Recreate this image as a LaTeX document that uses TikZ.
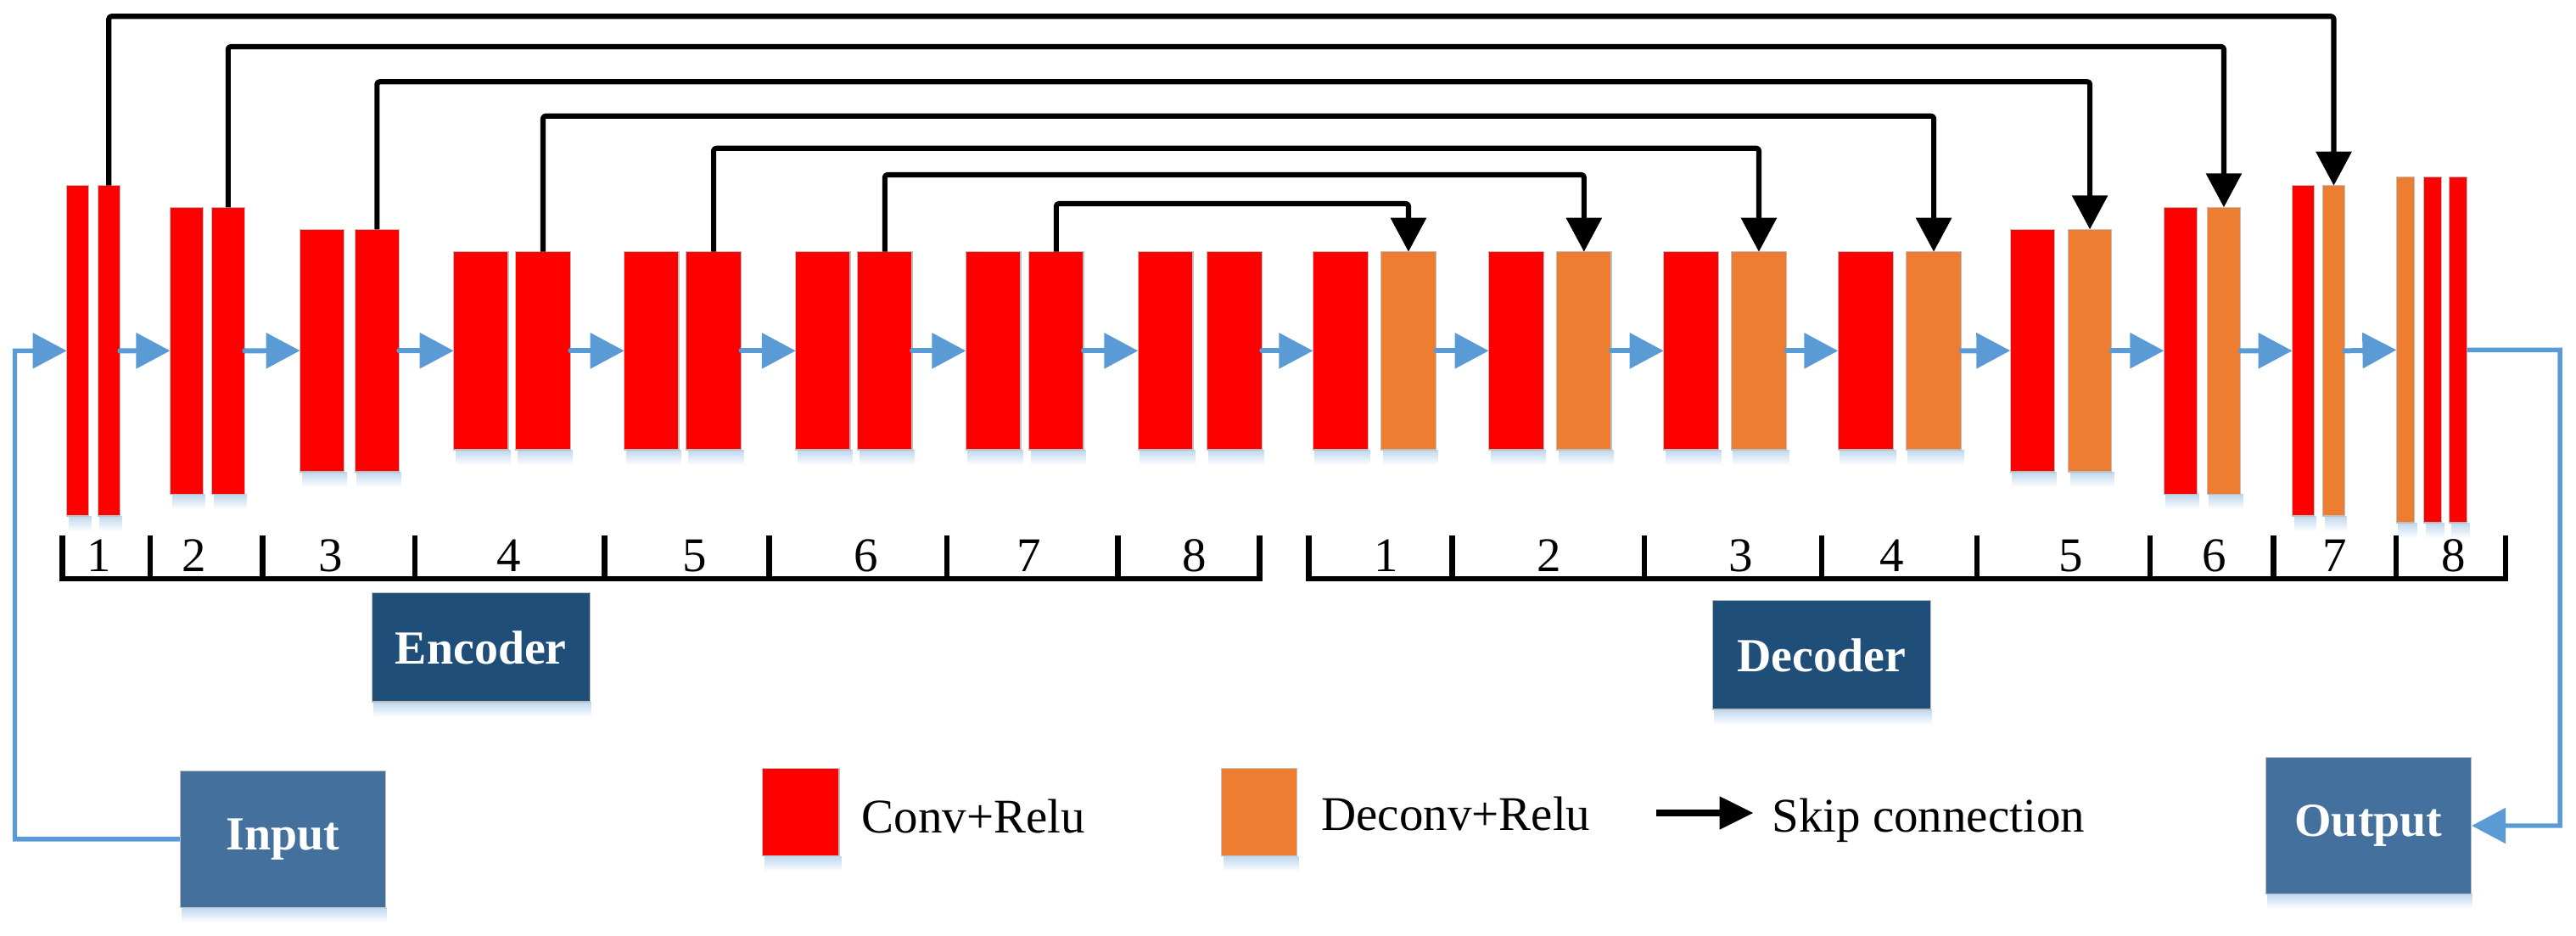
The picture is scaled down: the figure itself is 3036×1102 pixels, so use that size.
\documentclass[tikz,border=0pt]{standalone}
\usepackage{fontspec}
\setmainfont{Liberation Serif}
\usetikzlibrary{arrows.meta,fit,fadings}
\definecolor{cred}{HTML}{FF0000}
\definecolor{corange}{HTML}{ED7D31}
\definecolor{cblue}{HTML}{5B9BD5}
\definecolor{cdark}{HTML}{1F4E79}
\definecolor{cio}{HTML}{43709D}
\definecolor{cshadow}{HTML}{BDD7EE}
\definecolor{cedge}{HTML}{BFBFBF}
\newcommand\blk[6]{%
  \fill[cshadow, path fading=south] (#3+2,#6) rectangle (#5+3,#6+18);%
  \node[#1, fit={(#3,#4) (#5,#6)}] (#2) {};}
\begin{document}
\begin{tikzpicture}[x=0.01cm,y=-0.01cm,
  bar/.style={inner sep=0pt, outer sep=0pt, draw=cedge, line width=0.35pt},
  rbar/.style={bar, fill=cred},
  obar/.style={bar, fill=corange},
  tri/.style={-{Triangle[length=0.40cm,width=0.41cm]}},
  flow/.style={draw=cblue, line width=1.7pt, line cap=round, tri},
  io/.style={draw=cblue, line width=1.55pt, tri},
  skip/.style={draw=black, line width=1.75pt, line join=round, rounded corners=0.03cm, tri},
  bracket/.style={draw=black, line width=1.85pt},
  num/.style={anchor=base, inner sep=0pt, font=\fontsize{16.2}{19}\selectfont},
  lbl/.style={anchor=base west, inner sep=0pt, font=\fontsize{16.2}{19}\selectfont},
  boxbase/.style={draw=cedge, line width=0.35pt, text=white, inner sep=0pt,
     font=\fontsize{15.9}{19}\selectfont\bfseries},
  dbox/.style={boxbase, fill=cdark, minimum width=2.568cm, minimum height=1.283cm},
  iobox/.style={boxbase, fill=cio, minimum width=2.42cm, minimum height=1.605cm}
]
\useasboundingbox (0,0) rectangle (3036,1102);

% ---------------- encoder bars ----------------
\blk{rbar}{e1a}{78.6}{218.7}{104.6}{608}
\blk{rbar}{e1b}{115.3}{218.7}{141.3}{608}
\blk{rbar}{e2a}{200.5}{244.3}{239.3}{582.3}
\blk{rbar}{e2b}{249.5}{244.3}{288.3}{582.3}
\blk{rbar}{e3a}{353.6}{270.3}{405.6}{556}
\blk{rbar}{e3b}{418.4}{270.3}{470.4}{556}
\blk{rbar}{e4a}{534.7}{296.7}{599}{530}
\blk{rbar}{e4b}{607.7}{296.7}{672.4}{530}
\blk{rbar}{e5a}{735.7}{296.7}{800}{530}
\blk{rbar}{e5b}{808.7}{296.7}{873.5}{530}
\blk{rbar}{e6a}{937.8}{296.7}{1002}{530}
\blk{rbar}{e6b}{1010.7}{296.7}{1075}{530}
\blk{rbar}{e7a}{1138.3}{296.7}{1203}{530}
\blk{rbar}{e7b}{1212.8}{296.7}{1277}{530}
\blk{rbar}{e8a}{1341.3}{296.7}{1406}{530}
\blk{rbar}{e8b}{1422.4}{296.7}{1487.2}{530}
% ---------------- decoder bars ----------------
\blk{rbar}{d1a}{1547.4}{296.7}{1612.2}{530}
\blk{obar}{d1b}{1627.6}{296.7}{1692.3}{530}
\blk{rbar}{d2a}{1754.6}{296.7}{1819.4}{530}
\blk{obar}{d2b}{1834.7}{296.7}{1899}{530}
\blk{rbar}{d3a}{1960.7}{296.7}{2025.5}{530}
\blk{obar}{d3b}{2040.3}{296.7}{2105.6}{530}
\blk{rbar}{d4a}{2166.3}{296.7}{2231.6}{530}
\blk{obar}{d4b}{2246.4}{296.7}{2311.7}{530}
\blk{rbar}{d5a}{2369.3}{270.3}{2421.4}{556}
\blk{obar}{d5b}{2437.5}{270.3}{2488.6}{556}
\blk{rbar}{d6a}{2550.3}{244.3}{2589.3}{582.3}
\blk{obar}{d6b}{2601.4}{244.3}{2640.5}{582.3}
\blk{rbar}{d7a}{2701.6}{218.7}{2727.2}{608}
\blk{obar}{d7b}{2737.7}{218.7}{2763.3}{608}
\blk{obar}{d8a}{2824.4}{208.7}{2845.5}{616}
\blk{rbar}{d8b}{2856.5}{208.7}{2877.6}{616}
\blk{rbar}{d8c}{2886.6}{208.7}{2907.6}{616}

% ---------------- flow arrows ----------------
\draw[flow] (e1b.east) -- (e2a.west);
\draw[flow] (e2b.east) -- (e3a.west);
\draw[flow] (e3b.east) -- (e4a.west);
\draw[flow] (e4b.east) -- (e5a.west);
\draw[flow] (e5b.east) -- (e6a.west);
\draw[flow] (e6b.east) -- (e7a.west);
\draw[flow] (e7b.east) -- (e8a.west);
\draw[flow] (e8b.east) -- (d1a.west);
\draw[flow] (d1b.east) -- (d2a.west);
\draw[flow] (d2b.east) -- (d3a.west);
\draw[flow] (d3b.east) -- (d4a.west);
\draw[flow] (d4b.east) -- (d5a.west);
\draw[flow] (d5b.east) -- (d6a.west);
\draw[flow] (d6b.east) -- (d7a.west);
\draw[flow] (d7b.east) -- (d8a.west);

% ---------------- skip connections ----------------
\draw[skip] (e1b.north) -- (e1b.north |- 0,19.3) -| (d7b.north);
\draw[skip] (e2b.north) -- (e2b.north |- 0,55) -| (d6b.north);
\draw[skip] (e3b.north) -- (e3b.north |- 0,96.3) -| (d5b.north);
\draw[skip] (e4b.north) -- (e4b.north |- 0,136.7) -| (d4b.north);
\draw[skip] (e5b.north) -- (e5b.north |- 0,174.7) -| (d3b.north);
\draw[skip] (e6b.north) -- (e6b.north |- 0,206) -| (d2b.north);
\draw[skip] (e7b.north) -- (e7b.north |- 0,240) -| (d1b.north);

% ---------------- brackets ----------------
\draw[bracket] (73.7,631) |- (1484.7,682) -- (1484.7,631);
\foreach \x in {176.8,309.4,489,712.7,906.5,1115.8,1317.3}
  \draw[bracket] (\x,631) -- (\x,682);
\draw[bracket] (1542.3,631) |- (2952.8,682) -- (2952.8,631);
\foreach \x in {1711.7,1937.8,2147,2330.2,2534.2,2679.6,2824}
  \draw[bracket] (\x,631) -- (\x,682);
\node[num] (en1) at (117,673) {1};
\node[num] (en2) at (228.6,673) {2};
\node[num] (en3) at (390,673) {3};
\node[num] (en4) at (599.5,673) {4};
\node[num] (en5) at (818.9,673) {5};
\node[num] (en6) at (1020.4,673) {6};
\node[num] (en7) at (1213,673) {7};
\node[num] (en8) at (1408,673) {8};
\node[num] (dn1) at (1634,673) {1};
\node[num] (dn2) at (1825.5,673) {2};
\node[num] (dn3) at (2052,673) {3};
\node[num] (dn4) at (2229.6,673) {4};
\node[num] (dn5) at (2440.5,673) {5};
\node[num] (dn6) at (2609.4,673) {6};
\node[num] (dn7) at (2752,673) {7};
\node[num] (dn8) at (2891.6,673) {8};

% ---------------- boxes ----------------
\fill[cshadow, path fading=south] (440,827) rectangle (697,845);
\node[dbox] (enc) at (566.8,762.9) {Encoder};
\fill[cshadow, path fading=south] (2020,836) rectangle (2277,854);
\node[dbox] (dec) at (2146.9,771.9) {Decoder};
\fill[cshadow, path fading=south] (214,1069) rectangle (456,1087);
\node[iobox] (input) at (333.6,988.9) {Input};
\fill[cshadow, path fading=south] (2672,1053) rectangle (2914,1071);
\node[iobox] (output) at (2791.4,973) {Output};

% ---------------- input / output lines ----------------
\draw[io] (input.west) -| (17.5,413.3) -- (e1a.west);
\draw[io] (d8c.east) -- (3017,412.3) |- (output.east);

% ---------------- legend ----------------
\blk{rbar}{legconv}{898.6}{905.3}{989.1}{1008.7}
\node[lbl] (tconv) at (1015,981) {Conv+Relu};
\blk{obar}{legdeconv}{1439.5}{905.3}{1528.4}{1008.7}
\node[lbl] (tdeconv) at (1556.8,978) {Deconv+Relu};
\coordinate (ls1) at (1951.8,958);
\coordinate (ls2) at (2066.7,958);
\draw[skip, line width=2.2pt, -{Triangle[length=0.40cm,width=0.37cm]}] (ls1) -- (ls2);
\node[lbl] (tskip) at (2087.7,980) {Skip connection};
\end{tikzpicture}
\end{document}
